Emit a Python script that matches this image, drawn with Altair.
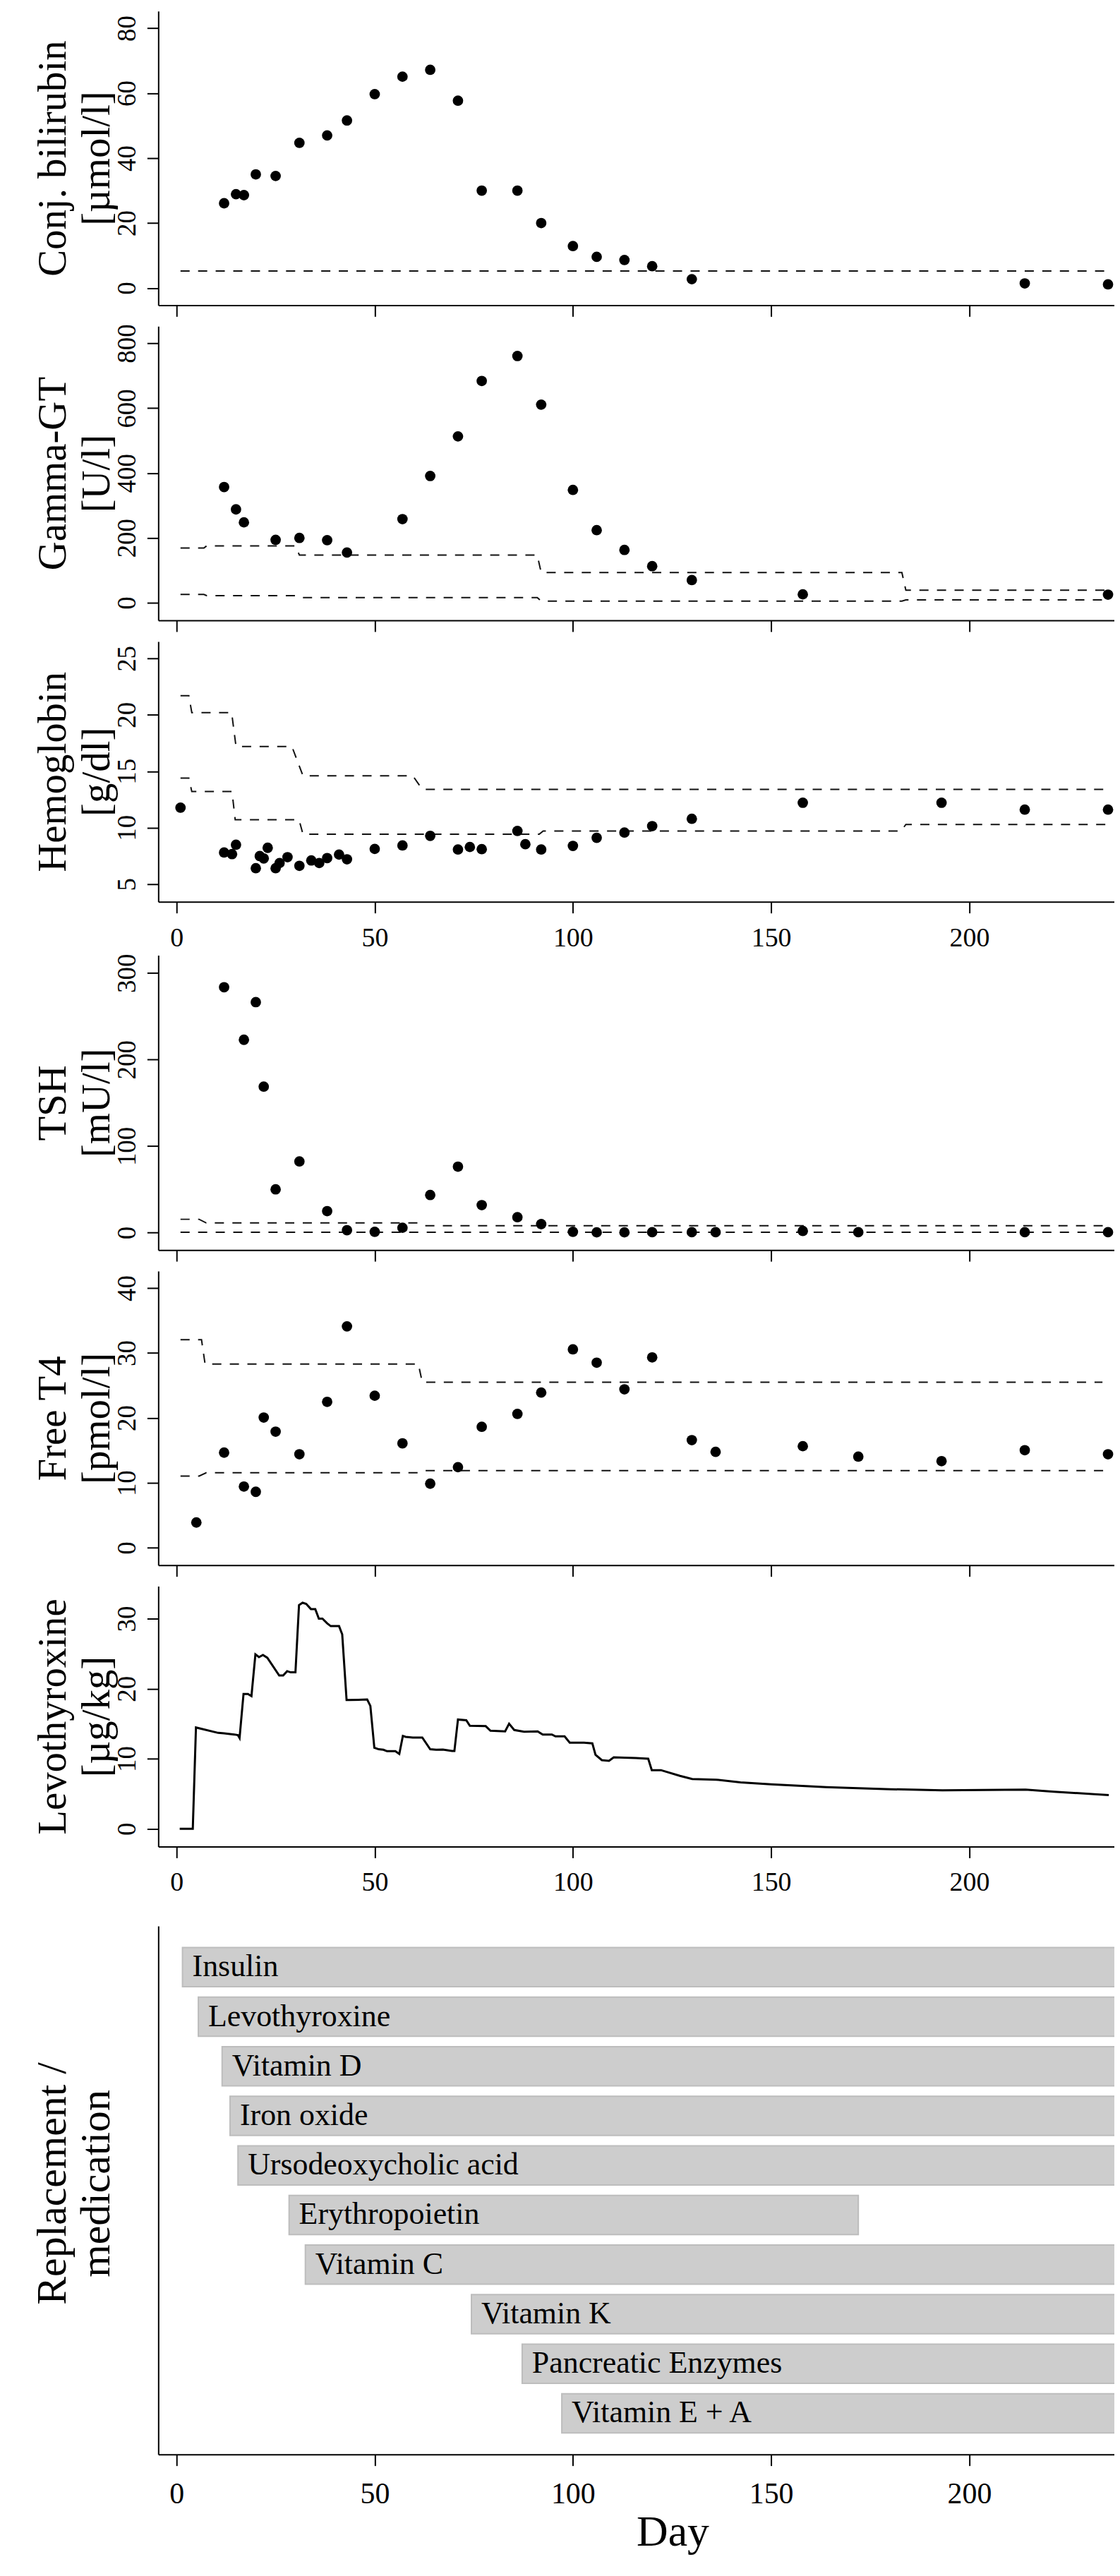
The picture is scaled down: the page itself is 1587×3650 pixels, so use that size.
import altair as alt
import pandas as pd

FONT = "Liberation Serif"
X_DOMAIN = [-4.6, 236.6]
PLOT_W = 1359
X_TICKS = [0, 50, 100, 150, 200]

# ---------------- data ----------------
bili_day = [12, 15, 17, 20, 25, 31, 38, 43, 50, 57, 64, 71, 77, 86, 92, 100, 106, 113, 120, 130, 214, 235]
bili_val = [26.1, 28.9, 28.6, 35.0, 34.5, 44.7, 47.0, 51.6, 59.7, 65.1, 67.2, 57.7, 30.0, 30.0, 20.0,
            12.9, 9.6, 8.6, 6.7, 2.7, 1.4, 1.1]
bili_ref_day = [1, 235]
bili_ref_val = [5.2, 5.2]

ggt_day = [12, 15, 17, 25, 31, 38, 43, 57, 64, 71, 77, 86, 92, 100, 106, 113, 120, 130, 158, 235]
ggt_val = [357, 288, 248, 194, 200, 193, 155, 258, 391, 513, 684, 761, 611, 348, 224, 163, 113, 70, 26, 25]
ggt_up_day = [1, 6.9, 7.6, 30, 31, 91, 92, 183, 184, 235]
ggt_up_val = [168.7, 168.7, 175.5, 175.5, 147, 147, 93, 93, 38.6, 38.6]
ggt_lo_day = [1, 6.9, 7.6, 30, 31, 91, 92, 183, 184, 235]
ggt_lo_val = [25.5, 25.5, 22, 22, 16, 16, 5, 5, 8.7, 8.7]

hb_day = [1, 12, 14, 15, 20, 21, 22, 23, 25, 26, 28, 31, 34, 36, 38, 41, 43, 50, 57, 64, 71, 74, 77, 86, 88,
          92, 100, 106, 113, 120, 130, 158, 193, 214, 235]
hb_val = [11.77, 7.80, 7.66, 8.49, 6.41, 7.49, 7.28, 8.22, 6.41, 6.87, 7.39, 6.62, 7.10, 6.87, 7.31, 7.62,
          7.20, 8.12, 8.43, 9.28, 8.07, 8.29, 8.1, 9.71, 8.54, 8.07, 8.39, 9.11, 9.57, 10.14, 10.79, 12.21,
          12.21, 11.6, 11.6]
hb_up_day = [1, 3.1, 3.85, 13.9, 15, 29.1, 31.9, 59.6, 62, 235]
hb_up_val = [21.7, 21.7, 20.2, 20.2, 17.2, 17.2, 14.6, 14.6, 13.4, 13.4]
hb_lo_day = [1, 3.1, 3.85, 14, 14.8, 30.9, 31.9, 91.5, 92.5, 182.8, 184, 235]
hb_lo_val = [14.4, 14.4, 13.2, 13.2, 10.7, 10.7, 9.42, 9.42, 9.71, 9.71, 10.29, 10.29]

tsh_day = [12, 17, 20, 22, 25, 31, 38, 43, 50, 57, 64, 71, 77, 86, 92, 100, 106, 113, 120, 130, 136, 158,
           172, 214, 235]
tsh_val = [283.6, 222.9, 266.4, 168.7, 50.0, 82.2, 24.8, 2.8, 0.9, 5.6, 43.5, 76.2, 31.8, 17.8, 9.8, 0.9,
           0.3, 0.3, 0.5, 0.5, 0.5, 1.9, 0.5, 0.5, 0.5]
tsh_up_day = [1, 5.7, 7.5, 61, 62.7, 235]
tsh_up_val = [15.4, 15.4, 11.2, 11.2, 7.9, 7.9]
tsh_lo_day = [1, 235]
tsh_lo_val = [0.5, 0.5]

ft4_day = [5, 12, 17, 20, 22, 25, 31, 38, 43, 50, 57, 64, 71, 77, 86, 92, 100, 106, 113, 120, 130, 136,
           158, 172, 193, 214, 235]
ft4_val = [3.9, 14.66, 9.44, 8.63, 20.06, 17.89, 14.41, 22.48, 34.1, 23.42, 16.09, 9.88, 12.42, 18.63,
           20.62, 23.91, 30.56, 28.51, 24.41, 29.32, 16.58, 14.78, 15.65, 14.04, 13.35, 15.03, 14.41]
ft4_up_day = [1, 6.3, 7.2, 61, 62, 233.6]
ft4_up_val = [32.05, 32.05, 28.3, 28.3, 25.5, 25.5]
ft4_lo_day = [1, 5.7, 7.5, 61, 62.7, 235]
ft4_lo_val = [11.05, 11.05, 11.55, 11.55, 11.9, 11.9]

levo_day = [0.8, 4.1, 4.9, 10.5, 12.0, 14.6, 15.5, 15.9, 16.9, 18.0, 18.9, 19.9, 20.8, 21.8, 22.9, 25.9,
            26.9, 27.9, 28.8, 30.0, 30.9, 31.8, 32.7, 33.9, 35.0, 35.9, 36.8, 38.0, 38.9, 41.0, 41.8, 42.9,
            43.6, 48.1, 48.9, 49.9, 51.0, 52.2, 53.1, 55.2, 56.2, 57.1, 57.8, 59.6, 62.0, 64.0, 65.5, 67.2,
            69.5, 70.1, 71.0, 73.1, 74.0, 78.0, 79.2, 82.9, 83.9, 85.2, 87.7, 91.1, 92.4, 94.7, 95.6, 97.9,
            99.2, 102.8, 104.9, 105.7, 107.3, 109.1, 110.3, 115.9, 119.0, 119.9, 122.2, 127.0, 130.1, 136.2,
            142.3, 150.0, 163.9, 180.1, 193.2, 214.2, 221.4, 235.2]
levo_val = [0, 0, 14.46, 13.69, 13.63, 13.46, 13.36, 12.96, 19.25, 19.25, 18.95, 24.91, 24.51, 24.81,
            24.41, 21.89, 21.89, 22.5, 22.33, 22.33, 31.94, 32.27, 32.11, 31.37, 31.37, 30.0, 30.0, 29.33,
            28.93, 28.93, 27.75, 18.38, 18.38, 18.45, 17.54, 11.58, 11.35, 11.28, 11.08, 11.08, 10.68, 13.26,
            13.12, 13.02, 13.02, 11.35, 11.28, 11.3, 11.1, 11.1, 15.6, 15.5, 14.7, 14.65, 14.0, 13.9, 15.0,
            14.1, 13.85, 13.9, 13.45, 13.45, 13.2, 13.2, 12.3, 12.3, 12.2, 10.56, 9.8, 9.7, 10.2, 10.1, 10.0,
            8.37, 8.37, 7.56, 7.1, 7.0, 6.63, 6.35, 5.94, 5.65, 5.48, 5.6, 5.3, 4.8]

med_names = ["Insulin", "Levothyroxine", "Vitamin D", "Iron oxide", "Ursodeoxycholic acid",
             "Erythropoietin", "Vitamin C", "Vitamin K", "Pancreatic Enzymes", "Vitamin E + A"]
med_start = [1.5, 5.5, 11.5, 13.5, 15.5, 28.4, 32.5, 74.4, 87.2, 97.2]
med_end = [245, 245, 245, 245, 245, 172, 245, 245, 245, 245]


# ---------------- helpers ----------------
def pts_df(d, v):
    return pd.DataFrame({"day": d, "value": v})


def ref_df(*pairs):
    rows = []
    for k, (d, v) in enumerate(pairs):
        for i, (a, b) in enumerate(zip(d, v)):
            rows.append({"day": a, "value": b, "bound": f"b{k}", "ord": i})
    return pd.DataFrame(rows)


def x_axis(labels=False, pad=47, size=38, offset=0, title=None, **extra):
    return alt.Axis(values=X_TICKS, labels=labels, ticks=True, tickSize=16, tickWidth=2,
                    tickColor="black", domainColor="black", domainWidth=2, grid=False,
                    labelFont=FONT, labelFontSize=size, labelColor="black",
                    labelPadding=pad, labelBaseline="alphabetic", labelAngle=0,
                    labelFlush=False, labelOverlap=False, offset=offset, title=title, **extra)


def y_title_kw(title, mid, fs=57):
    return dict(title=title, titleFont=FONT, titleFontSize=fs, titleFontWeight="normal",
                titleColor="black", titleAngle=270, titleAlign="center",
                titleBaseline="alphabetic", titleX=-132, titleY=mid, titleLineHeight=62)


def y_axis(title, values, mid):
    return alt.Axis(values=values, tickSize=16, tickWidth=2, tickColor="black",
                    domainColor="black", domainWidth=2, grid=False,
                    labelFont=FONT, labelFontSize=37, labelColor="black", labelPadding=17,
                    labelAngle=270, labelAlign="center", labelBaseline="alphabetic",
                    labelFlush=False, labelOverlap=False, **y_title_kw(title, mid))


def xscale():
    return alt.Scale(domain=X_DOMAIN, nice=False, zero=False)


def scatter_panel(pts, ref, ydom, yvals, title, h, xax, yrange=None):
    ysc = dict(domain=ydom, nice=False, zero=False)
    if yrange is not None:
        ysc["range"] = yrange
        mid = yrange[0] / 2
    else:
        mid = h / 2
    x = alt.X("day:Q", scale=xscale(), axis=xax)
    y = alt.Y("value:Q", scale=alt.Scale(**ysc), axis=y_axis(title, yvals, mid))
    lines = alt.Chart(ref).mark_line(strokeDash=[13, 12], strokeWidth=2, color="#111111").encode(
        x=x, y=y, detail="bound:N", order="ord:Q")
    dots = alt.Chart(pts).mark_circle(size=220, color="black", opacity=1).encode(x=x, y=y)
    return alt.layer(lines, dots).properties(width=PLOT_W, height=h)


# ---------------- panels ----------------
p1 = scatter_panel(pts_df(bili_day, bili_val), ref_df((bili_ref_day, bili_ref_val)),
                   [-5.3, 85.3], [0, 20, 40, 60, 80], ["Conj. bilirubin", "[µmol/l]"], 418, x_axis())

p2 = scatter_panel(pts_df(ggt_day, ggt_val), ref_df((ggt_up_day, ggt_up_val), (ggt_lo_day, ggt_lo_val)),
                   [-54.2, 852.7], [0, 200, 400, 600, 800], ["Gamma-GT", "[U/l]"], 418, x_axis())

p3 = scatter_panel(pts_df(hb_day, hb_val), ref_df((hb_up_day, hb_up_val), (hb_lo_day, hb_lo_val)),
                   [3.44, 26.5], [5, 10, 15, 20, 25], ["Hemoglobin", "[g/dl]"], 416,
                   x_axis(labels=True, pad=47, size=38, offset=-46), yrange=[370, 0])

p4 = scatter_panel(pts_df(tsh_day, tsh_val), ref_df((tsh_up_day, tsh_up_val), (tsh_lo_day, tsh_lo_val)),
                   [-20.1, 320.6], [0, 100, 200, 300], ["TSH", "[mU/l]"], 419, x_axis())

p5 = scatter_panel(pts_df(ft4_day, ft4_val), ref_df((ft4_up_day, ft4_up_val), (ft4_lo_day, ft4_lo_val)),
                   [-2.67, 42.61], [0, 10, 20, 30, 40], ["Free T4", "[pmol/l]"], 418, x_axis())

levo = pts_df(levo_day, levo_val)
p6 = alt.Chart(levo).mark_line(strokeWidth=3, color="black").encode(
    x=alt.X("day:Q", scale=xscale(), axis=x_axis(labels=True, pad=46, size=38, offset=-83)),
    y=alt.Y("value:Q", scale=alt.Scale(domain=[-2.54, 34.62], range=[370, 0], nice=False, zero=False),
            axis=y_axis(["Levothyroxine", "[µg/kg]"], [0, 10, 20, 30], 185)),
).properties(width=PLOT_W, height=453)

meds = pd.DataFrame({"name": med_names, "start": med_start, "end": med_end})
P7_H = 751
mx = alt.X("start:Q", scale=xscale(),
           axis=x_axis(labels=True, pad=53, size=42, title="Day", titleFont=FONT, titleFontSize=62,
                       titleFontWeight="normal", titleColor="black", titleBaseline="alphabetic",
                       titleAlign="center", titleX=731, titleY=129))
my = alt.Y("name:N", sort=med_names,
           scale=alt.Scale(paddingInner=0.21, paddingOuter=0.434),
           axis=alt.Axis(labels=False, ticks=False, domainColor="black", domainWidth=2, grid=False,
                         **y_title_kw(["Replacement /", "medication"], P7_H / 2 - 10, fs=60)))
bars = alt.Chart(meds).mark_bar(color="#cdcdcd", stroke="#bdbdbd", strokeWidth=2, clip=True).encode(
    x=mx, x2="end:Q", y=my)
labels = alt.Chart(meds).mark_text(align="left", baseline="middle", dx=14, font=FONT, fontSize=44,
                                   color="black").encode(x=mx, y=my, text="name:N")
p7 = alt.layer(bars, labels).properties(width=PLOT_W, height=P7_H)

chart = alt.vconcat(p1, p2, p3, p4, p5, p6, p7, spacing=30, bounds="flush").properties(
    padding={"left": 37, "top": 2, "right": 0, "bottom": 0}, background="white"
).configure_view(stroke=None)

chart.save("out.html", embed_options={"renderer": "svg", "actions": False})
